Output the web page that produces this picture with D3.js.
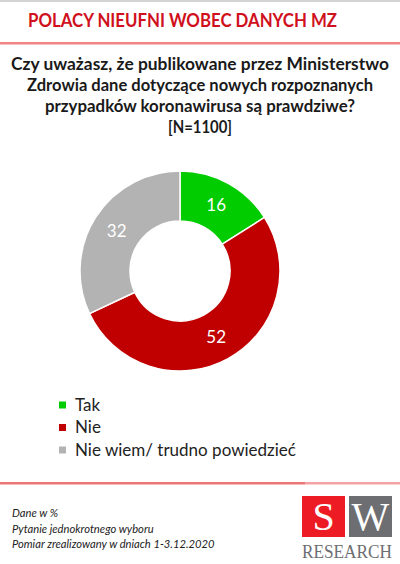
<!DOCTYPE html>
<html>
<head>
<meta charset="utf-8">
<script src="https://cdn.jsdelivr.net/npm/d3@7"></script>
<style>
    body { margin: 0; background: #fff; }
    svg { display: block; font-family: Lato, "Open Sans", sans-serif; }
</style>
</head>
<body>
<div id="chart"></div>
<script>
    // data
    let categories = ["Tak", "Nie", "Nie wiem/ trudno powiedzieć"];
    let values = [16, 52, 32];
    let colors = ["#00cc00", "#c00000", "#b3b3b3"];

    let title = "POLACY NIEUFNI WOBEC DANYCH MZ";
    let question = [
        "Czy uważasz, że publikowane przez Ministerstwo",
        "Zdrowia dane dotyczące nowych rozpoznanych",
        "przypadków koronawirusa są prawdziwe?",
        "[N=1100]"
    ];
    let notes = ["Dane w %", "Pytanie jednokrotnego wyboru", "Pomiar zrealizowany  w dniach 1-3.12.2020"];

    let width = 400, height = 564;

    let svg = d3.select("#chart")
        .append("svg")
        .attr("width", width)
        .attr("height", height);

    // top frame line
    svg.append("rect")
        .attr("x", 0).attr("y", 0)
        .attr("width", width).attr("height", 2)
        .attr("fill", "#d4d4d4");

    // title
    svg.append("text")
        .attr("x", 28)
        .attr("y", 27)
        .attr("fill", "#d0101c")
        .style("font-weight", "bold")
        .style("font-size", "19px")
        .attr("textLength", 309)
        .attr("lengthAdjust", "spacingAndGlyphs")
        .text(title);

    svg.append("rect")
        .attr("x", 0).attr("y", 42)
        .attr("width", width).attr("height", 2.5)
        .attr("fill", "#f08585");

    // question
    let qWidths = [378, 346, 310, 64];
    svg.selectAll(".question")
        .data(question)
        .join("text")
        .attr("class", "question")
        .attr("x", 200)
        .attr("y", (d, i) => 70 + i * 21)
        .attr("text-anchor", "middle")
        .attr("fill", "#1a1a1a")
        .style("font-weight", "bold")
        .style("font-size", "16.5px")
        .attr("textLength", (d, i) => qWidths[i])
        .attr("lengthAdjust", "spacingAndGlyphs")
        .text(d => d);

    // donut
    let cx = 180, cy = 271, outerR = 100, innerR = 50;
    let pie = d3.pie().sort(null).value(d => d);
    let arc = d3.arc().innerRadius(innerR).outerRadius(outerR);
    let labelArc = d3.arc().innerRadius(75).outerRadius(75);

    let g = svg.append("g")
        .attr("transform", `translate(${cx}, ${cy})`);

    let arcs = pie(values);

    g.selectAll("path")
        .data(arcs)
        .join("path")
        .attr("d", arc)
        .attr("fill", (d, i) => colors[i])
        .attr("stroke", "#fff")
        .attr("stroke-width", 1.5);

    g.selectAll(".label")
        .data(arcs)
        .join("text")
        .attr("class", "label")
        .attr("transform", d => `translate(${labelArc.centroid(d)})`)
        .attr("text-anchor", "middle")
        .attr("dy", "0.35em")
        .attr("fill", "#fff")
        .style("font-size", "17px")
        .text(d => d.data);

    // legend
    let legend = svg.selectAll(".legend")
        .data(categories)
        .join("g")
        .attr("class", "legend")
        .attr("transform", (d, i) => `translate(59, ${405 + i * 22.5})`);

    legend.append("rect")
        .attr("x", 0).attr("y", -3.5)
        .attr("width", 7).attr("height", 7)
        .attr("fill", (d, i) => colors[i]);

    legend.append("text")
        .attr("x", 16)
        .attr("dy", "0.35em")
        .attr("fill", "#222")
        .style("font-size", "17px")
        .text(d => d);

    // footer line
    svg.append("rect")
        .attr("x", 0).attr("y", 482)
        .attr("width", 305).attr("height", 2.5)
        .attr("fill", "#eb7777");
    svg.append("rect")
        .attr("x", 305).attr("y", 482)
        .attr("width", 95).attr("height", 2.5)
        .attr("fill", "#f3a3a3");

    // notes
    svg.selectAll(".note")
        .data(notes)
        .join("text")
        .attr("class", "note")
        .attr("x", 12)
        .attr("y", (d, i) => 517 + i * 15.5)
        .attr("fill", "#222")
        .style("font-style", "italic")
        .style("font-size", "11.2px")
        .text(d => d);

    // logo
    let logo = svg.append("g").attr("transform", "translate(302, 496)");
    logo.append("rect").attr("width", 43).attr("height", 41).attr("fill", "#ed1c24");
    logo.append("rect").attr("x", 47).attr("width", 43).attr("height", 41).attr("fill", "#6d6e71");
    logo.append("text")
        .attr("x", 21.5).attr("y", 34)
        .attr("text-anchor", "middle")
        .attr("fill", "#fff")
        .style("font-family", "'Liberation Serif', serif")
        .style("font-size", "40px")
        .text("S");
    logo.append("text")
        .attr("x", 68.5).attr("y", 34)
        .attr("text-anchor", "middle")
        .attr("fill", "#fff")
        .style("font-family", "'Liberation Serif', serif")
        .style("font-size", "40px")
        .text("W");
    logo.append("text")
        .attr("x", 0).attr("y", 62)
        .attr("fill", "#6d6e71")
        .style("font-family", "'Liberation Serif', serif")
        .style("font-size", "18px")
        .attr("textLength", 90)
        .attr("lengthAdjust", "spacingAndGlyphs")
        .text("RESEARCH");
</script>
</body>
</html>
